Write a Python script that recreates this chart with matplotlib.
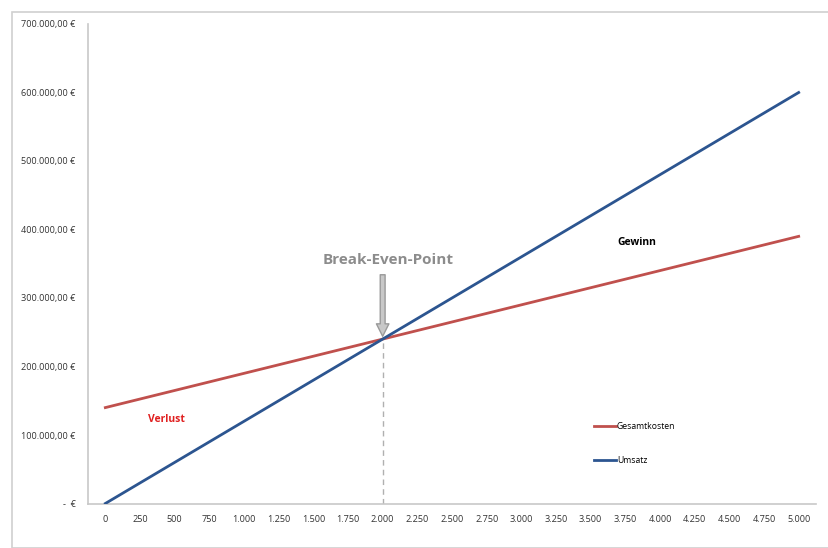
import matplotlib
matplotlib.use("Agg")
import matplotlib.pyplot as plt
from matplotlib.patches import Rectangle

plt.rcParams['font.family'] = ['Open Sans', 'DejaVu Sans']

# Menge (Stueck)
menge = [0, 250, 500, 750, 1000, 1250, 1500, 1750, 2000, 2250, 2500,
         2750, 3000, 3250, 3500, 3750, 4000, 4250, 4500, 4750, 5000]
gesamtkosten = [140000, 152500, 165000, 177500, 190000, 202500, 215000,
                227500, 240000, 252500, 265000, 277500, 290000, 302500,
                315000, 327500, 340000, 352500, 365000, 377500, 390000]
umsatz = [0, 30000, 60000, 90000, 120000, 150000, 180000, 210000, 240000,
          270000, 300000, 330000, 360000, 390000, 420000, 450000, 480000,
          510000, 540000, 570000, 600000]
x_labels = ['0', '250', '500', '750', '1.000', '1.250', '1.500', '1.750',
            '2.000', '2.250', '2.500', '2.750', '3.000', '3.250', '3.500',
            '3.750', '4.000', '4.250', '4.500', '4.750', '5.000']
y_ticks = [0, 100000, 200000, 300000, 400000, 500000, 600000, 700000]
y_labels = ['-  €', '100.000,00 €', '200.000,00 €', '300.000,00 €',
            '400.000,00 €', '500.000,00 €', '600.000,00 €', '700.000,00 €']
break_even = (2000, 240000)

W, H = 829, 548
fig = plt.figure(figsize=(W / 100, H / 100), dpi=100)
fig.patch.set_facecolor('white')
# outer chart frame like excel
fig.patches.append(Rectangle((12 / W, 0), (W - 12) / W, (H - 12) / H,
                             transform=fig.transFigure, fill=False,
                             edgecolor='#d0d0d0', linewidth=1.2))

ax = fig.add_axes([88 / W, (H - 503.5) / H, (816 - 88) / W, (503.5 - 24) / H])
ax.set_xlim(-125, 5125)
ax.set_ylim(0, 700000)

ax.plot(menge, gesamtkosten, color='#c0504d', linewidth=2, label='Gesamtkosten', zorder=3)
ax.plot(menge, umsatz, color='#2c5590', linewidth=2, label='Umsatz', zorder=3)

ax.plot([break_even[0], break_even[0]], [0, break_even[1]], color='#b0b0b0',
        linestyle=(0, (4, 3)), linewidth=1, zorder=2)

ax.annotate('', xy=break_even, xytext=(break_even[0], 338000),
            arrowprops=dict(arrowstyle='simple,head_length=0.9,head_width=0.9,tail_width=0.35',
                            fc='#c8c8c8', ec='#9a9a9a', lw=1), zorder=4)
ax.text(break_even[0] + 40, 345000, 'Break-Even-Point', color='#8c8c8c',
        fontsize=11, fontweight='bold', ha='center', va='bottom')
ax.text(3831, 381000, 'Gewinn', color='black', fontsize=7.5, fontweight='bold',
        ha='center', va='center')
ax.text(440, 122000, 'Verlust', color='#e02020', fontsize=7.5, fontweight='bold',
        ha='center', va='center')

ax.set_xticks(menge)
ax.set_xticklabels(x_labels)
ax.set_yticks(y_ticks)
ax.set_yticklabels(y_labels)
ax.tick_params(axis='both', length=0, labelsize=6.6, colors='#333333')
ax.tick_params(axis='x', pad=8)
ax.tick_params(axis='y', pad=9)

for side in ['top', 'right']:
    ax.spines[side].set_visible(False)
for side in ['left', 'bottom']:
    ax.spines[side].set_color('#c8c8c8')
    ax.spines[side].set_linewidth(1.2)

ax.legend(loc='upper left', bbox_to_anchor=((598 - 88) / (816 - 88) - 0.012, (503.5 - 418) / 479.5),
          frameon=False, fontsize=6.2, handlelength=2.6, handletextpad=0.1,
          labelspacing=2.9, borderpad=0)

fig.savefig('out.png', dpi=100)
